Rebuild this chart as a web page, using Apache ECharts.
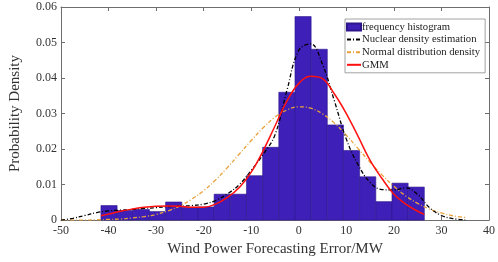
<!DOCTYPE html>
<html><head><meta charset="utf-8">
<script src="https://cdn.jsdelivr.net/npm/echarts@6/dist/echarts.min.js"></script>
<style>html,body{margin:0;padding:0;background:#fff}#c{width:498px;height:262px}</style>
</head><body><div id="c"></div>
<script>
// Histogram bins (edges) and probability density per bin
const binEdges = [-41.6, -38.2, -34.8, -31.4, -28.0, -24.6, -21.2, -17.8, -14.4, -11.0, -7.6, -4.2, -0.8, 2.6, 6.0, 9.4, 12.8, 16.2, 19.6, 23.0, 26.4];
const histValues = [0.0041, 0.0027, 0.0030, 0.0024, 0.0051, 0.0036, 0.0037, 0.0073, 0.0073, 0.0125, 0.0205, 0.0360, 0.0573, 0.0481, 0.0268, 0.0196, 0.0122, 0.0052, 0.0104, 0.0093];

// Curves
const curveX = [-50, -47.5, -45, -42.5, -40, -37.5, -35, -32.5, -30, -27.5, -25, -22.5, -20, -17.5, -15, -12.5, -10, -7.5, -5, -2.5, 0, 2.5, 5, 7.5, 10, 12.5, 15, 17.5, 20, 22.5, 25, 27.5, 30, 32.5, 35];
const kdeY = [0.0000, 0.0005, 0.0013, 0.0021, 0.0026, 0.0028, 0.0030, 0.0033, 0.0035, 0.0038, 0.0039, 0.0041, 0.0045, 0.0055, 0.0074, 0.0100, 0.0140, 0.0185, 0.0240, 0.0365, 0.0478, 0.0496, 0.0438, 0.0335, 0.0228, 0.0155, 0.0106, 0.0086, 0.0085, 0.0091, 0.0072, 0.0035, 0.0013, 0.0004, 0.0001];
const normalY = [0.0000, 0.0000, 0.0000, 0.0001, 0.0002, 0.0003, 0.0006, 0.0010, 0.0016, 0.0026, 0.0040, 0.0059, 0.0083, 0.0113, 0.0148, 0.0186, 0.0224, 0.0260, 0.0290, 0.0310, 0.0319, 0.0315, 0.0299, 0.0273, 0.0239, 0.0201, 0.0163, 0.0127, 0.0095, 0.0068, 0.0047, 0.0031, 0.0020, 0.0012, 0.0007];
const gmmX = [-41.6, -40, -37.5, -35, -32.5, -30, -27.5, -25, -22.5, -20, -17.5, -15, -12.5, -10, -7.5, -5, -2.5, 0, 2.5, 5, 7.5, 10, 12.5, 15, 17.5, 20, 22.5, 25, 26.4];
const gmmY = [0.0012, 0.0017, 0.0025, 0.0031, 0.0036, 0.0039, 0.0040, 0.0039, 0.0036, 0.0036, 0.0045, 0.0064, 0.0092, 0.0135, 0.0195, 0.0265, 0.0335, 0.0385, 0.0405, 0.0398, 0.0355, 0.0300, 0.0235, 0.0168, 0.0117, 0.0073, 0.0045, 0.0025, 0.0016];

const xTicks = {min: -50, max: 40, interval: 10};
const yTicks = {min: 0, max: 0.06, interval: 0.01};

const histData = histValues.map((v, i) => [binEdges[i], binEdges[i + 1], v]);
const zip = (xs, ys) => xs.map((x, i) => [x, ys[i]]);

const FONT = '"Liberation Serif", "Times New Roman", serif';
const AX = '#6e6e6e';
const TXT = '#333';

const chart = echarts.init(document.getElementById('c'), null, {renderer: 'canvas'});
const baseAxis = {
  axisLine: {show: true, onZero: false, lineStyle: {color: AX, width: 1}},
  axisTick: {show: true, inside: true, length: 4, lineStyle: {color: AX}},
  splitLine: {show: false}
};
const hideSym = {opacity: 0};
chart.setOption({
  animation: false,
  backgroundColor: '#fff',
  grid: {left: 43, right: 7, top: 7, bottom: 36, containLabel: false},
  xAxis: [
    Object.assign({}, baseAxis, {
      type: 'value', position: 'bottom', min: xTicks.min, max: xTicks.max, interval: xTicks.interval,
      axisLabel: {color: TXT, fontFamily: FONT, fontSize: 12, margin: 5},
      name: 'Wind Power Forecasting Error/MW', nameLocation: 'middle', nameGap: 21,
      nameTextStyle: {color: TXT, fontFamily: FONT, fontSize: 15}
    }),
    Object.assign({}, baseAxis, {
      type: 'value', position: 'top', min: xTicks.min, max: xTicks.max, interval: xTicks.interval,
      axisLabel: {show: false}
    })
  ],
  yAxis: [
    Object.assign({}, baseAxis, {
      type: 'value', position: 'left', min: yTicks.min, max: yTicks.max, interval: yTicks.interval,
      axisLabel: {color: TXT, fontFamily: FONT, fontSize: 12, margin: 4},
      name: 'Probability Density', nameLocation: 'middle', nameGap: 38, nameRotate: 90,
      nameTextStyle: {color: TXT, fontFamily: FONT, fontSize: 15}
    }),
    Object.assign({}, baseAxis, {
      type: 'value', position: 'right', min: yTicks.min, max: yTicks.max, interval: yTicks.interval,
      axisLabel: {show: false}
    })
  ],
  legend: {
    orient: 'vertical', left: 345, top: 19,
    backgroundColor: '#fff', borderColor: '#8a8a8a', borderWidth: 0.8,
    padding: [2, 5, 2, 1], itemGap: 0.6, itemWidth: 14, itemHeight: 7,
    textStyle: {color: '#222', fontFamily: FONT, fontSize: 10.7, padding: [0, 0, 0, -4], lineHeight: 12},
    data: [
      {name: 'frequency histogram', icon: 'rect'},
      {name: 'Nuclear density estimation', itemStyle: hideSym},
      {name: 'Normal distribution density', itemStyle: hideSym},
      {name: 'GMM', itemStyle: hideSym}
    ]
  },
  series: [
    {
      name: 'frequency histogram', type: 'custom', z: 1,
      itemStyle: {color: '#3e1fb8', borderColor: '#2e178c', borderWidth: 0.6},
      encode: {x: [0, 1], y: 2},
      renderItem: function (params, api) {
        const p0 = api.coord([api.value(0), api.value(2)]);
        const p1 = api.coord([api.value(1), 0]);
        return {type: 'rect', shape: {x: p0[0], y: p0[1], width: p1[0] - p0[0], height: p1[1] - p0[1]}, style: api.style()};
      },
      data: histData
    },
    {
      name: 'Nuclear density estimation', type: 'line', z: 3, showSymbol: false, symbol: 'none', smooth: 0.4,
      lineStyle: {color: '#000', width: 1.3, type: [4, 2, 1, 2]}, itemStyle: {color: '#000'},
      data: zip(curveX, kdeY)
    },
    {
      name: 'Normal distribution density', type: 'line', z: 2, showSymbol: false, symbol: 'none', smooth: 0.4,
      lineStyle: {color: '#e9a23b', width: 1.3, type: [4, 2, 1, 2]}, itemStyle: {color: '#e9a23b'},
      data: zip(curveX, normalY)
    },
    {
      name: 'GMM', type: 'line', z: 4, showSymbol: false, symbol: 'none', smooth: 0.4,
      lineStyle: {color: '#ff1010', width: 1.5}, itemStyle: {color: '#ff1010'},
      data: zip(gmmX, gmmY)
    }
  ]
});
</script></body></html>
